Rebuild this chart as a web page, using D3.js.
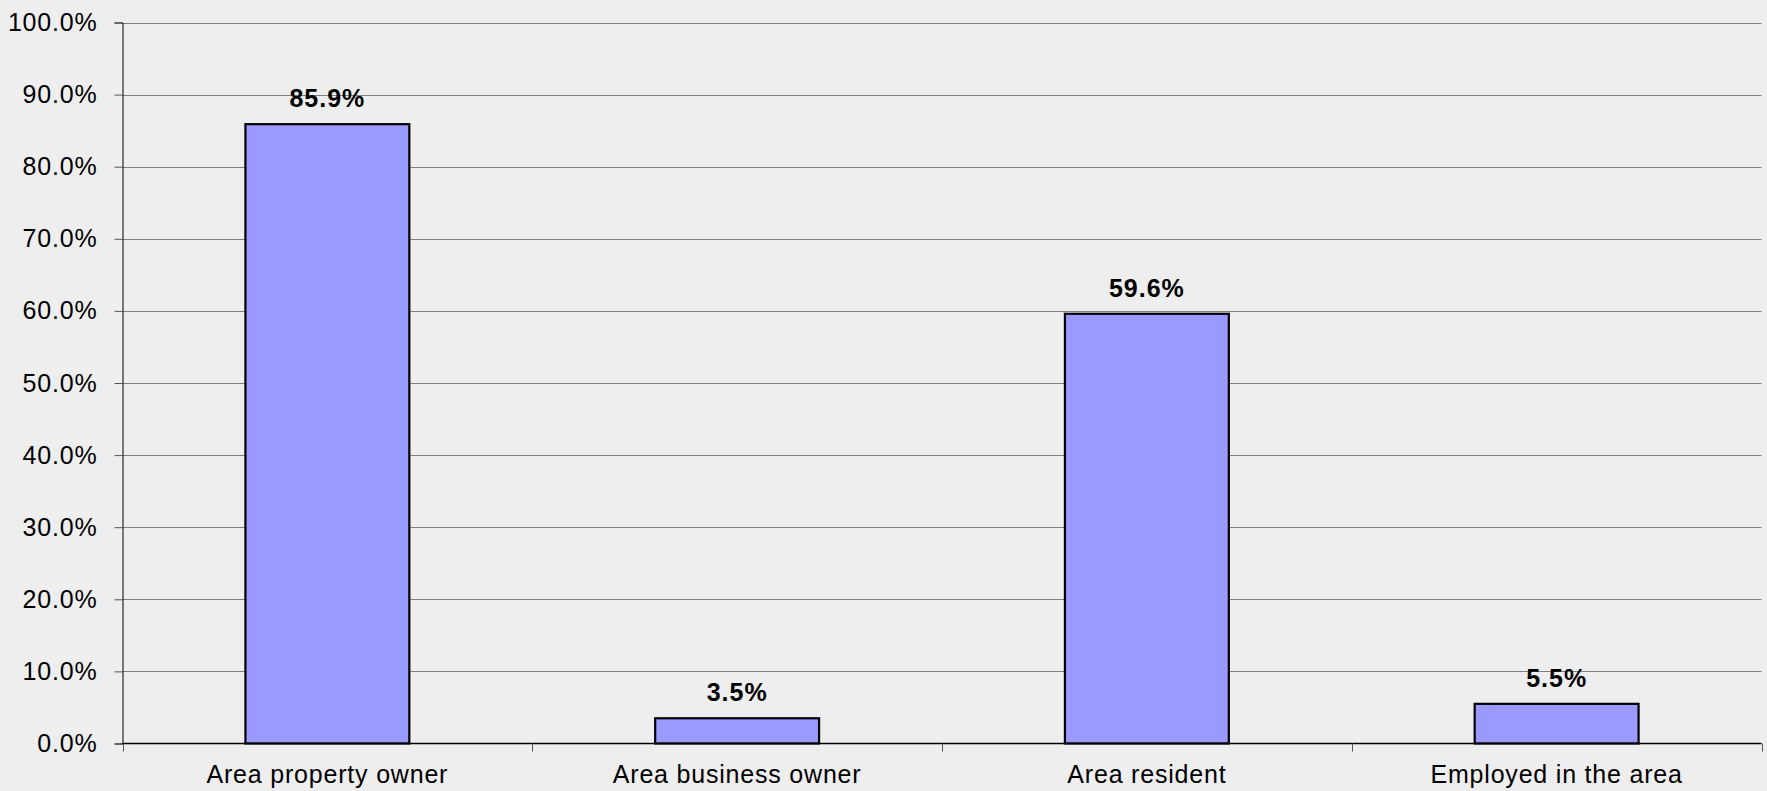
<!DOCTYPE html>
<html>
<head>
<meta charset="utf-8">
<script src="https://cdn.jsdelivr.net/npm/d3@7"></script>
<style>
  html, body { margin: 0; padding: 0; background: #eeeeee; }
  svg { display: block; }
  text { font-family: "Liberation Sans", Arial, sans-serif; }
</style>
</head>
<body>
<svg id="chart" width="1767" height="791"></svg>
<script>
// Share of respondents by relationship to the area
const categories = ["Area property owner", "Area business owner", "Area resident", "Employed in the area"];
const values = [0.859, 0.035, 0.596, 0.055];
const yTicks = [0, 0.1, 0.2, 0.3, 0.4, 0.5, 0.6, 0.7, 0.8, 0.9, 1.0];

const W = 1767, H = 791;
const margin = { left: 122.5, right: 5.5, top: 22.5, bottom: 47.5 };
const svg = d3.select("#chart");

svg.append("rect").attr("width", W).attr("height", H).attr("fill", "#eeeeee");

const x = d3.scaleBand()
  .domain(categories)
  .range([margin.left, W - margin.right])
  .paddingInner(0.6)
  .paddingOuter(0.3);

const y = d3.scaleLinear().domain([0, 1]).range([H - margin.bottom, margin.top]);

const fmt = d3.format(".1%");

// Horizontal gridlines
svg.append("g")
  .selectAll("line")
  .data(yTicks.filter(d => d > 0))
  .join("line")
  .attr("x1", margin.left)
  .attr("x2", W - margin.right)
  .attr("y1", d => Math.round(y(d)) + 0.5)
  .attr("y2", d => Math.round(y(d)) + 0.5)
  .attr("stroke", "#7f7f7f")
  .attr("stroke-width", 1);

// Y axis
const yAxis = svg.append("g")
  .attr("transform", `translate(${margin.left},0)`)
  .call(d3.axisLeft(y).tickValues(yTicks).tickFormat(fmt).tickSize(8).tickPadding(17));
yAxis.select(".domain").attr("stroke", "#000").attr("stroke-width", 1);
yAxis.selectAll(".tick line").attr("stroke", "#555");
yAxis.selectAll(".tick text")
  .attr("font-size", 25)
  .attr("letter-spacing", "0.8px")
  .attr("fill", "#000")
  .attr("font-family", "'Liberation Sans', Arial, sans-serif");

// Bars
svg.append("g")
  .selectAll("rect")
  .data(categories.map((c, i) => ({ c, v: values[i] })))
  .join("rect")
  .attr("x", d => x(d.c))
  .attr("width", x.bandwidth())
  .attr("y", d => y(d.v))
  .attr("height", d => y(0) - y(d.v))
  .attr("fill", "#9999ff")
  .attr("stroke", "#000")
  .attr("stroke-width", 2.2);

// Value labels
svg.append("g")
  .selectAll("text")
  .data(categories.map((c, i) => ({ c, v: values[i] })))
  .join("text")
  .attr("x", d => x(d.c) + x.bandwidth() / 2)
  .attr("y", d => y(d.v) - 17)
  .attr("text-anchor", "middle")
  .attr("font-size", 25)
  .attr("letter-spacing", "1px")
  .attr("font-weight", "bold")
  .attr("fill", "#000")
  .text(d => fmt(d.v));

// X axis with category boundary ticks
const xAxisY = H - margin.bottom;
svg.append("line")
  .attr("x1", margin.left).attr("x2", W - margin.right)
  .attr("y1", xAxisY).attr("y2", xAxisY)
  .attr("stroke", "#000").attr("stroke-width", 1.5);

const step = (W - margin.right - margin.left) / categories.length;
svg.append("g")
  .selectAll("line")
  .data(d3.range(categories.length + 1))
  .join("line")
  .attr("x1", i => Math.round(margin.left + i * step) + 0.5)
  .attr("x2", i => Math.round(margin.left + i * step) + 0.5)
  .attr("y1", xAxisY)
  .attr("y2", xAxisY + 8)
  .attr("stroke", "#555");

svg.append("g")
  .selectAll("text")
  .data(categories)
  .join("text")
  .attr("x", d => x(d) + x.bandwidth() / 2)
  .attr("y", 783)
  .attr("text-anchor", "middle")
  .attr("font-size", 25)
  .attr("letter-spacing", "0.8px")
  .attr("fill", "#000")
  .text(d => d);
</script>
</body>
</html>
